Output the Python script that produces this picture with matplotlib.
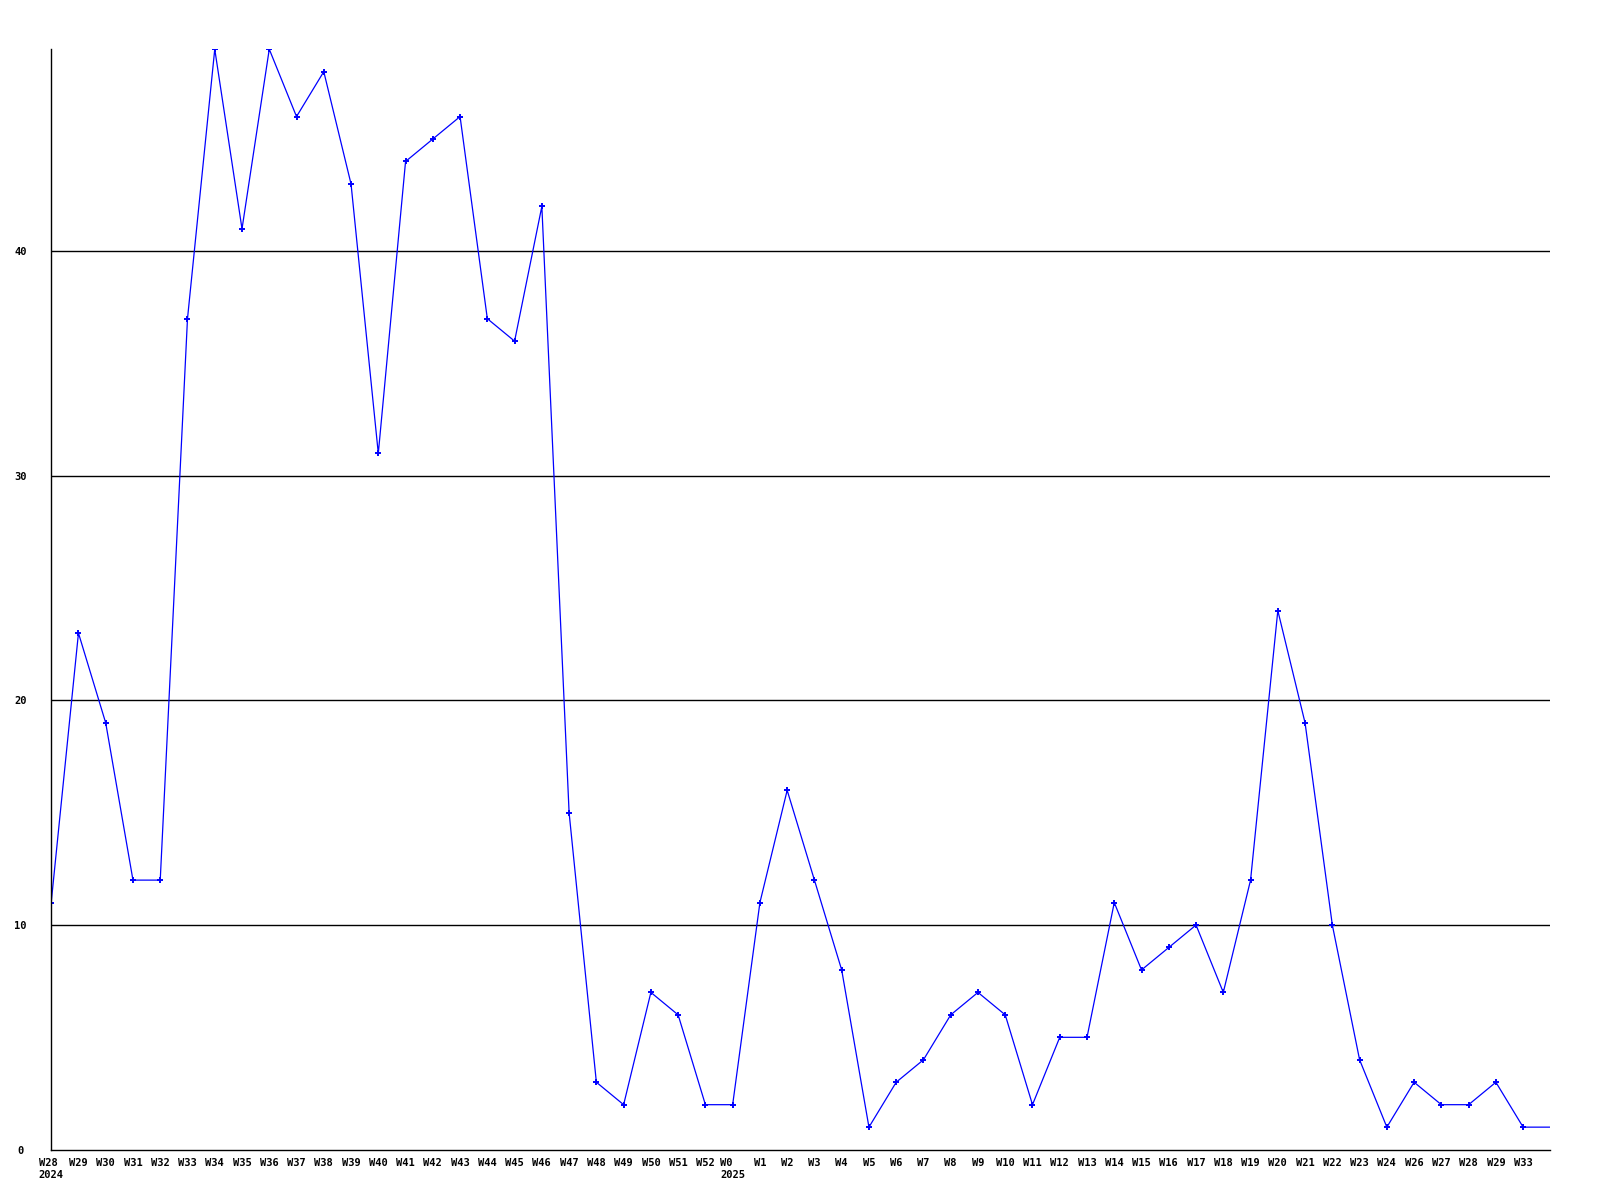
import numpy as np
import matplotlib.pyplot as plt

# weekly counts
weeks = ['W28', 'W29', 'W30', 'W31', 'W32', 'W33', 'W34', 'W35', 'W36', 'W37',
         'W38', 'W39', 'W40', 'W41', 'W42', 'W43', 'W44', 'W45', 'W46', 'W47',
         'W48', 'W49', 'W50', 'W51', 'W52', 'W0', 'W1', 'W2', 'W3', 'W4',
         'W5', 'W6', 'W7', 'W8', 'W9', 'W10', 'W11', 'W12', 'W13', 'W14',
         'W15', 'W16', 'W17', 'W18', 'W19', 'W20', 'W21', 'W22', 'W23', 'W24',
         'W26', 'W27', 'W28', 'W29', 'W33']
years = {0: '2024', 25: '2025'}
counts = [11, 23, 19, 12, 12, 37, 49, 41, 49, 46,
          48, 43, 31, 44, 45, 46, 37, 36, 42, 15,
          3, 2, 7, 6, 2, 2, 11, 16, 12, 8,
          1, 3, 4, 6, 7, 6, 2, 5, 5, 11,
          8, 9, 10, 7, 12, 24, 19, 10, 4, 1,
          3, 2, 2, 3, 1]

fig = plt.figure(figsize=(16, 12), dpi=100)
ax = fig.add_axes([0.032, 0.042, 0.937, 0.917])

x = np.arange(len(counts))
# line continues flat to the right edge of the plot
ax.plot(list(x) + [len(counts)], counts + [counts[-1]], color='#0000ff', lw=0.9)
ax.plot(x, counts, ls='none', marker='+', color='#0000ff', ms=4.5, mew=1.4)

for v in [10, 20, 30, 40]:
    ax.axhline(v, color='black', lw=1.0, zorder=0)

ax.set_xlim(0, len(counts))
ax.set_ylim(0, 49)
ax.set_yticks([0, 10, 20, 30, 40])
ax.set_yticklabels(['0', '10', '20', '30', '40'])

labels = []
for i, w in enumerate(weeks):
    if i in years:
        labels.append(w + '\n' + years[i])
    else:
        labels.append(w)
ax.set_xticks(x)
ax.set_xticklabels(labels, ha='center', va='top', linespacing=1.2)

for lab in ax.get_xticklabels() + ax.get_yticklabels():
    lab.set_fontfamily('DejaVu Sans Mono')
    lab.set_fontweight('bold')
    lab.set_fontsize(7.5)
for lab in ax.get_xticklabels():
    lab.set_multialignment('left')

ax.tick_params(axis='both', length=0)
ax.tick_params(axis='x', pad=6)
ax.tick_params(axis='y', pad=22)
for lab in ax.get_yticklabels():
    lab.set_horizontalalignment('center')

ax.spines['top'].set_visible(False)
ax.spines['right'].set_visible(False)
ax.spines['left'].set_linewidth(1.0)
ax.spines['bottom'].set_linewidth(1.0)

fig.savefig('out.png', dpi=100)
